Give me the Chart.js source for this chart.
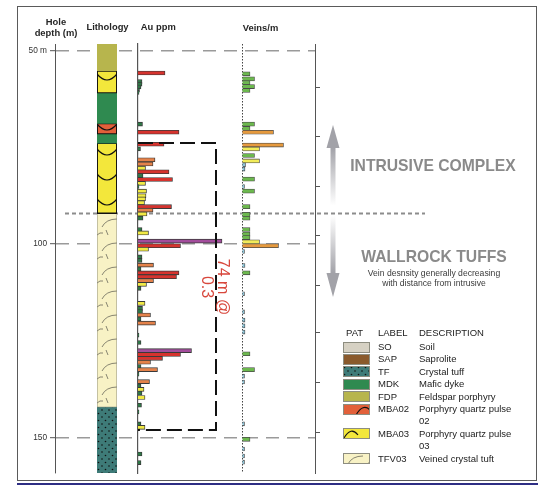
<!DOCTYPE html>
<html lang="en">
<head>
  <meta charset="UTF-8" />
  <title>Drill hole log - Au ppm and veins/m</title>
  <script src="https://cdn.jsdelivr.net/npm/chart.js"></script>
  <style>
    body { margin: 0; background: #fff; font-family: "Liberation Sans", Arial, sans-serif; }
    #wrap { position: relative; width: 550px; height: 486px; overflow: hidden; background: #fff; }
    #wrap canvas.layer { position: absolute; left: 0; top: 0; }
    .t { position: absolute; white-space: nowrap; color: #262626; }
    .head { font-weight: bold; font-size: 9.4px; line-height: 10.5px; text-align: center; width: 100px; }
    #frame { position: absolute; left: 17px; top: 6px; width: 518px; height: 473px; border: 1.5px solid #5a5a5a; }
    #blueline { position: absolute; left: 17px; top: 483px; width: 521px; height: 2px; background: #2e2e84; }
    .big { font-weight: bold; font-size: 15.7px; color: #8a8a8a; width: 200px; text-align: center; line-height: 18px; }
    .small { font-size: 8.6px; color: #3a3a3a; width: 200px; text-align: center; line-height: 10px; }
    #intercept { position: absolute; width: 64px; line-height: 16px; font-size: 16px; color: #d8473c; text-align: center; transform: rotate(90deg); white-space: nowrap; }
    #legend { position: absolute; left: 343px; top: 326.5px; font-size: 9.5px; line-height: 12.4px; color: #222; }
    .lrow { display: flex; }
    .lrow .sw { width: 35px; }
    .lrow .sw canvas { display: block; margin-top: 0.7px; }
    .lrow .lb { width: 41px; }
    .lrow .ds { width: 98px; white-space: normal; }
    .lhead { margin-bottom: 2px; }
  </style>
</head>
<body>
<div id="wrap">
  <div id="frame"></div>
  <div id="blueline"></div>

  <canvas id="cDepth" class="layer" width="550" height="486"></canvas>
  <canvas id="cLith" class="layer" width="550" height="486"></canvas>
  <canvas id="cAu" class="layer" width="550" height="486"></canvas>
  <canvas id="cVein" class="layer" width="550" height="486"></canvas>

  <svg width="550" height="486" style="position:absolute;left:0;top:0">
    <defs>
      <linearGradient id="gUp" x1="0" y1="0" x2="0" y2="1">
        <stop offset="0" stop-color="#a2a2a8" />
        <stop offset="1" stop-color="#ffffff" />
      </linearGradient>
      <linearGradient id="gDown" x1="0" y1="0" x2="0" y2="1">
        <stop offset="0" stop-color="#ffffff" />
        <stop offset="1" stop-color="#a2a2a8" />
      </linearGradient>
    </defs>
    <polygon points="333,125 326.5,148 339.5,148" fill="#a2a2a8" />
    <rect x="330.5" y="147.5" width="5" height="58" fill="url(#gUp)" />
    <rect x="330.5" y="215" width="5" height="58.5" fill="url(#gDown)" />
    <polygon points="326.5,273 339.5,273 333,297" fill="#a2a2a8" />
  </svg>

  <div class="t head" style="left:6px;top:17px">Hole<br>depth (m)</div>
  <div class="t head" style="left:57.5px;top:22px">Lithology</div>
  <div class="t head" style="left:108.3px;top:22px">Au ppm</div>
  <div class="t head" style="left:210.5px;top:22.7px">Veins/m</div>

  <div id="intercept"></div>

  <div class="t big" style="left:333px;top:157px">INTRUSIVE COMPLEX</div>
  <div class="t big" style="left:334px;top:247.7px">WALLROCK TUFFS</div>
  <div class="t small" style="left:334px;top:268.3px">Vein desnsity generally decreasing</div>
  <div class="t small" style="left:334px;top:278.3px">with distance from intrusive</div>

  <div id="legend"></div>
</div>

<script>
  // ---- depth axis ----
  const DEPTH_MIN = 48.3;
  const DEPTH_MAX = 159.1;
  const depthTicks = [50, 100, 150];
  const depthLabels = ["50 m", "100", "150"];
  const rightTicks = [59.5, 72.2, 85.1, 97.7, 110.6, 122.9, 135.8, 148.7];

  // ---- lithology intervals (m) ----
  const lithFrom = [48.3, 55.2, 61.0, 68.8, 71.6, 73.9, 92.1, 142.1];
  const lithTo   = [55.2, 61.0, 68.8, 71.6, 73.9, 92.1, 142.1, 159.1];
  const lithCode = ["FDP", "MBA03", "MDK", "MBA02", "MDK", "MBA03", "TFV03", "TF"];

  // ---- Au assays (sample depth m, ppm) ----
  const auDepth = [55.8, 58.0, 58.7, 59.4, 60.2, 60.8, 69.0, 71.1, 74.2, 75.4,
                   78.2, 79.3, 80.4, 81.3, 82.3, 83.3, 84.3, 85.1, 86.3, 87.5,
                   88.3, 89.3, 90.3, 91.2, 92.2, 93.3, 96.2, 97.1, 99.2, 100.4,
                   101.3, 103.3, 104.2, 105.4, 106.4, 107.4, 108.4, 109.4, 110.4, 111.4,
                   115.3, 116.6, 117.4, 118.3, 119.3, 120.4, 123.5, 125.4, 127.5, 128.5,
                   129.5, 130.5, 131.6, 132.4, 133.6, 135.5, 136.6, 137.5, 138.5, 139.6,
                   141.6, 143.3, 146.4, 147.3, 154.2, 156.4];
  const auPpm = [0.54, 0.08, 0.08, 0.06, 0.03, 0.02, 0.09, 0.82, 0.52, 0.05,
                 0.34, 0.30, 0.15, 0.62, 0.10, 0.69, 0.15, 0.02, 0.17, 0.16,
                 0.15, 0.13, 0.67, 0.30, 0.18, 0.10, 0.08, 0.21, 1.68, 0.85,
                 0.21, 0.08, 0.08, 0.31, 0.06, 0.82, 0.77, 0.31, 0.17, 0.06,
                 0.14, 0.09, 0.09, 0.25, 0.06, 0.35, 0.02, 0.06, 1.07, 0.85,
                 0.49, 0.25, 0.06, 0.39, 0.02, 0.23, 0.06, 0.12, 0.08, 0.14,
                 0.07, 0.02, 0.06, 0.14, 0.08, 0.06];

  // ---- vein counts (depth m, veins/m) ----
  const veinDepth = [56.0, 57.3, 58.3, 59.3, 60.3, 69.0, 70.1, 71.1, 74.4, 75.4,
                     77.1, 78.5, 79.5, 80.6, 83.2, 85.1, 86.3, 90.3, 92.3, 93.3,
                     96.2, 97.4, 98.3, 99.4, 100.4, 101.9, 105.5, 107.4, 112.8, 117.5,
                     119.6, 121.1, 122.7, 128.3, 132.4, 134.1, 135.6, 146.4, 150.4, 152.9,
                     154.7, 156.3];
  const veinCount = [1.6, 2.5, 1.6, 2.5, 1.6, 2.5, 1.6, 6.3, 8.3, 3.5,
                     2.5, 3.5, 0.7, 0.6, 2.5, 0.5, 2.5, 1.6, 1.6, 1.6,
                     1.6, 1.6, 1.6, 3.5, 7.3, 0.5, 0.6, 1.6, 0.5, 0.5,
                     0.6, 0.6, 0.6, 1.6, 2.5, 0.5, 0.5, 0.5, 1.6, 0.5,
                     0.5, 0.5];

  // ---- intercept and contact ----
  const interceptFrom = 73.9;
  const interceptTo = 148.0;
  const interceptEdge = 1.56;
  const interceptText = ["74 m @", "0.3"];
  const contactDepth = 92.1;

  // ---- legend ----
  const legendCodes = ["SO", "SAP", "TF", "MDK", "FDP", "MBA02", "MBA03", "TFV03"];
  const legendDesc = ["Soil", "Saprolite", "Crystal tuff", "Mafic dyke", "Feldspar porphyry",
                      "Porphyry quartz pulse 02", "Porphyry quartz pulse 03", "Veined crystal tuft"];

  const FILL = {
    SO: "#d6d1c3", SAP: "#8a5a2c", TF: "#3e7b78", MDK: "#2f8a50",
    FDP: "#b7b54d", MBA02: "#e2603a", MBA03: "#f3e73b", TFV03: "#f8f2c5"
  };

  Chart.defaults.font.family = '"Liberation Sans", Arial, sans-serif';

  function tile(code) {
    const c = document.createElement("canvas");
    if (code === "TF") { c.width = 7; c.height = 7; }
    else if (code === "MBA02" || code === "MBA03") { c.width = 20; c.height = 25; }
    else if (code === "TFV03") { c.width = 20; c.height = 24; }
    else { c.width = 4; c.height = 4; }
    const g = c.getContext("2d");
    g.fillStyle = FILL[code];
    g.fillRect(0, 0, c.width, c.height);
    if (code === "TF") {
      g.fillStyle = "#111";
      g.beginPath(); g.arc(1.5, 1.5, 0.8, 0, Math.PI * 2); g.fill();
      g.beginPath(); g.arc(5, 5, 0.8, 0, Math.PI * 2); g.fill();
    } else if (code === "MBA02" || code === "MBA03") {
      g.strokeStyle = "#111"; g.lineWidth = 1.2;
      g.beginPath(); g.moveTo(0, 1); g.quadraticCurveTo(10, 13, 20, 1); g.stroke();
    } else if (code === "TFV03") {
      g.strokeStyle = "#6a685a"; g.lineWidth = 0.8;
      g.beginPath(); g.moveTo(20, 3); g.quadraticCurveTo(9, 3, 5, 11); g.stroke();
      g.beginPath(); g.moveTo(9, 14); g.lineTo(11, 19); g.stroke();
      g.beginPath(); g.moveTo(0, 19); g.quadraticCurveTo(3, 16, 6, 17); g.stroke();
    }
    return c;
  }

  function auColour(v) {
    if (v >= 1.0) return "#a34d9c";
    if (v >= 0.45) return "#d6332e";
    if (v >= 0.22) return "#e4824a";
    if (v >= 0.11) return "#f1ea45";
    return "#2f7747";
  }

  function veinColour(v) {
    if (v >= 5) return "#e69a3e";
    if (v >= 3) return "#f2ec5a";
    if (v >= 1) return "#6cb84e";
    return "#8cc4d8";
  }

  function depthScale(extra) {
    return Object.assign({
      type: "linear", min: DEPTH_MIN, max: DEPTH_MAX, reverse: true,
      offset: false, display: false
    }, extra);
  }

  const baseOptions = pad => ({
    responsive: false,
    animation: false,
    events: [],
    layout: { padding: pad },
    plugins: { legend: { display: false }, tooltip: { enabled: false } }
  });

  // dotted contact line between intrusive and wallrock
  const contactLine = {
    id: "contactLine",
    afterDraw(chart) {
      const y = chart.scales.y.getPixelForValue(contactDepth);
      const ctx = chart.ctx;
      ctx.save();
      ctx.strokeStyle = "#8c8c8c";
      ctx.lineWidth = 2;
      ctx.setLineDash([4, 3]);
      ctx.beginPath(); ctx.moveTo(65, y); ctx.lineTo(425, y); ctx.stroke();
      ctx.restore();
    }
  };

  new Chart(document.getElementById("cDepth"), {
    type: "scatter",
    data: { datasets: [] },
    options: Object.assign(baseOptions({ left: 0, right: 0, top: 44, bottom: 13 }), {
      scales: {
        x: { display: false, min: 0, max: 1 },
        y: depthScale({
          display: true, position: "left",
          afterFit: s => { s.width = 55; },
          afterBuildTicks: s => { s.ticks = depthTicks.map(v => ({ value: v })); },
          ticks: { callback: (v, i) => depthLabels[i], font: { size: 8.3 }, color: "#333", padding: 3 },
          grid: { color: "#9a9a9a", lineWidth: 1.4, tickColor: "#555", tickLength: 5, tickWidth: 1 },
          border: { color: "#555", width: 1, dash: [13, 8] }
        }),
        y2: depthScale({
          display: true, position: "right",
          afterFit: s => { s.width = 235; },
          afterBuildTicks: s => { s.ticks = rightTicks.map(v => ({ value: v })); },
          ticks: { display: false },
          grid: { drawOnChartArea: false, color: "#555", tickLength: 5 },
          border: { color: "#555", width: 1 }
        })
      }
    }),
    plugins: [contactLine]
  });

  // ---- lithology column ----
  const lithCanvas = document.getElementById("cLith");
  const lctx = lithCanvas.getContext("2d");
  const patterns = {};
  lithCode.forEach(c => { if (!patterns[c]) patterns[c] = lctx.createPattern(tile(c), "repeat"); });

  const alignPatterns = {
    id: "alignPatterns",
    beforeDatasetsDraw(chart) {
      const m = new DOMMatrix().translate(chart.chartArea.left, chart.chartArea.top + 4);
      Object.values(patterns).forEach(p => p.setTransform(m));
    }
  };

  new Chart(lithCanvas, {
    type: "bar",
    data: {
      labels: ["Lithology"],
      datasets: lithFrom.map((f, i) => {
        const code = lithCode[i];
        const outlined = code === "MBA02" || code === "MBA03";
        return {
          label: code,
          data: [[f, lithTo[i]]],
          backgroundColor: patterns[code],
          borderColor: outlined ? "#111" : "#8a8a7a",
          borderWidth: outlined ? 1.3 : (code === "TFV03" ? 0.8 : 0),
          borderSkipped: false,
          grouped: false,
          barPercentage: 1,
          categoryPercentage: 1
        };
      })
    },
    options: Object.assign(baseOptions({ left: 97, right: 433, top: 44, bottom: 13 }), {
      scales: { x: { display: false }, y: depthScale() }
    }),
    plugins: [alignPatterns]
  });

  // ---- Au ppm ----
  const interceptBracket = {
    id: "interceptBracket",
    afterDatasetsDraw(chart) {
      const { x, y } = chart.scales;
      const x0 = x.getPixelForValue(0), x1 = x.getPixelForValue(interceptEdge);
      const y0 = y.getPixelForValue(interceptFrom), y1 = y.getPixelForValue(interceptTo);
      const ctx = chart.ctx;
      ctx.save();
      ctx.strokeStyle = "#111";
      ctx.lineWidth = 2;
      ctx.setLineDash([15, 6]);
      ctx.beginPath();
      ctx.moveTo(x0, y0); ctx.lineTo(x1, y0); ctx.lineTo(x1, y1); ctx.lineTo(x0, y1);
      ctx.stroke();
      ctx.restore();
      // label position follows the bracket
      const lab = document.getElementById("intercept");
      lab.innerHTML = interceptText.join("<br>");
      lab.style.left = (x1 - 1 - 32) + "px";
      lab.style.top = ((y0 + y1) / 2 - 16) + "px";
    }
  };

  new Chart(document.getElementById("cAu"), {
    type: "bar",
    data: {
      datasets: [{
        label: "Au ppm",
        data: auDepth.map((d, i) => ({ x: auPpm[i], y: d })),
        backgroundColor: c => auColour(c.raw ? c.raw.x : 0),
        borderColor: "#3a3a3a",
        borderWidth: 0.9,
        barThickness: 4
      }]
    },
    options: Object.assign(baseOptions({ left: 138, right: 312, top: 44, bottom: 13 }), {
      indexAxis: "y",
      scales: {
        x: { type: "linear", min: 0, max: 2, display: false },
        y: depthScale({
          display: true,
          afterFit: s => { s.width = 0; },
          ticks: { display: false },
          grid: { display: false, drawTicks: false },
          border: { display: true, color: "#555", width: 1.2 }
        })
      }
    }),
    plugins: [interceptBracket]
  });

  // ---- Veins/m ----
  new Chart(document.getElementById("cVein"), {
    type: "bar",
    data: {
      datasets: [{
        label: "Veins/m",
        data: veinDepth.map((d, i) => ({ x: veinCount[i], y: d })),
        backgroundColor: c => veinColour(c.raw ? c.raw.x : 0),
        borderColor: "#4a4a4a",
        borderWidth: 0.8,
        barThickness: 4
      }]
    },
    options: Object.assign(baseOptions({ left: 242, right: 248, top: 44, bottom: 13 }), {
      indexAxis: "y",
      scales: {
        x: {
          type: "linear", min: 0, max: 12, display: true,
          afterFit: s => { s.height = 0; },
          afterBuildTicks: s => { s.ticks = [{ value: 0 }]; },
          ticks: { display: false },
          grid: { drawTicks: false, color: "#444", lineWidth: 1 },
          border: { display: false, dash: [1.5, 1.5] }
        },
        y: depthScale()
      }
    })
  });

  // ---- legend ----
  function drawSwatch(cv, code) {
    const g = cv.getContext("2d");
    g.fillStyle = g.createPattern(tile(code), "repeat");
    g.fillRect(0, 0, cv.width, cv.height);
    g.strokeStyle = "#111"; g.lineWidth = 1.1;
    if (code === "MBA02") {
      g.fillStyle = FILL.MBA02; g.fillRect(0, 0, cv.width, cv.height);
      g.beginPath(); g.moveTo(13, 11); g.quadraticCurveTo(20, -1, 27, 6); g.stroke();
    } else if (code === "MBA03") {
      g.fillStyle = FILL.MBA03; g.fillRect(0, 0, cv.width, cv.height);
      g.beginPath(); g.moveTo(1, 10); g.quadraticCurveTo(8, -2, 15, 7); g.stroke();
    }
    g.strokeStyle = "#8d8d80"; g.lineWidth = 1;
    g.strokeRect(0.5, 0.5, cv.width - 1, cv.height - 1);
  }

  const legend = document.getElementById("legend");
  legend.innerHTML =
    '<div class="lrow lhead"><div class="sw" style="text-indent:3px">PAT</div><div class="lb">LABEL</div><div class="ds">DESCRIPTION</div></div>';
  legendCodes.forEach((code, i) => {
    const row = document.createElement("div");
    row.className = "lrow";
    row.innerHTML = '<div class="sw"><canvas width="27" height="11"></canvas></div>' +
      '<div class="lb">' + code + '</div><div class="ds">' + legendDesc[i] + '</div>';
    legend.appendChild(row);
    drawSwatch(row.querySelector("canvas"), code);
  });
</script>
</body>
</html>
